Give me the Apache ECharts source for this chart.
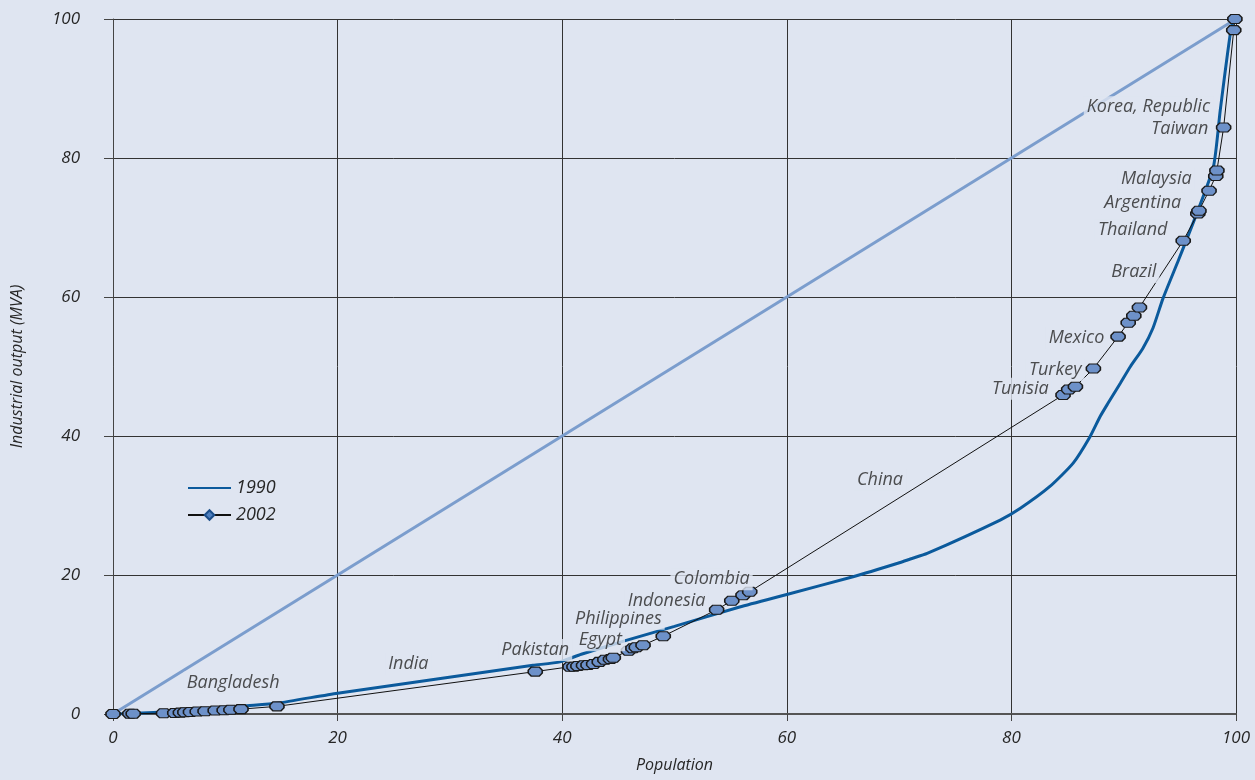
<!DOCTYPE html>
<html>
<head>
<meta charset="utf-8">
<script src="https://cdn.jsdelivr.net/npm/echarts@6/dist/echarts.min.js"></script>
<style>
html,body{margin:0;padding:0;background:#dfe5f1;}
#chart{width:1255px;height:780px;}
</style>
</head>
<body>
<div id="chart"></div>
<script>
// Tick labels
const xTicks = [0, 20, 40, 60, 80, 100];
const yTicks = [0, 20, 40, 60, 80, 100];

// Equality line
const equalityX = [0, 100];
const equalityY = [0, 100];

// 1990 curve (cumulative population %, cumulative MVA %)
const pop1990 = [0, 2, 7.7, 11.6, 14.6, 20, 37.4, 39.8, 41.7, 45.7, 50, 55.8, 60, 65.9, 70.1, 71, 72.5, 79, 80.8, 83.4, 85.5, 87, 87.9, 88.6, 89.7, 90.6, 91.7, 92.6, 93.5, 94.9, 96.5, 98.0, 98.6, 99.6, 100];
const mva1990 = [0, 0.1, 0.55, 1.15, 1.55, 3.0, 7.0, 7.5, 8.6, 10.6, 12.6, 15.4, 17.2, 19.75, 21.8, 22.3, 23.1, 27.9, 29.6, 32.7, 36.1, 39.9, 42.8, 44.7, 47.6, 50.0, 52.6, 55.5, 59.8, 65.4, 72.0, 78.8, 86.9, 99.0, 100];

// 2002 curve (each marker is a country)
const pop2002 = [0, 1.5, 1.8, 4.5, 5.5, 6.0, 6.4, 6.9, 7.5, 8.2, 9.1, 9.9, 10.5, 11.4, 14.6, 37.6, 40.7, 41.05, 41.4, 41.9, 42.3, 42.8, 43.3, 43.8, 44.3, 44.55, 45.9, 46.3, 46.6, 47.2, 49.0, 53.75, 55.1, 56.1, 56.7, 84.6, 85.1, 85.7, 87.3, 89.5, 90.4, 90.9, 91.4, 95.3, 96.6, 96.7, 97.6, 98.2, 98.3, 98.9, 99.8, 99.9];
const mva2002 = [0, 0.05, 0.05, 0.1, 0.15, 0.2, 0.25, 0.3, 0.35, 0.4, 0.5, 0.55, 0.6, 0.7, 1.1, 6.1, 6.8, 6.8, 6.9, 7.0, 7.05, 7.2, 7.5, 7.8, 7.9, 8.1, 9.1, 9.45, 9.6, 9.9, 11.2, 15.0, 16.3, 17.1, 17.6, 45.9, 46.7, 47.1, 49.7, 54.3, 56.3, 57.3, 58.5, 68.1, 72.0, 72.4, 75.3, 77.4, 78.2, 84.4, 98.4, 100];

// Country annotations (anchor in data units)
const countryNames = ['Bangladesh', 'India', 'Pakistan', 'Egypt', 'Philippines', 'Indonesia', 'Colombia', 'China', 'Tunisia', 'Turkey', 'Mexico', 'Brazil', 'Thailand', 'Argentina', 'Malaysia', 'Taiwan', 'Korea, Republic'];
const countryX = [10.7, 26.3, 37.6, 43.4, 45.0, 49.3, 53.3, 68.3, 80.8, 83.9, 85.8, 90.9, 90.8, 91.7, 92.9, 95.0, 92.2];
const countryY = [4.5, 7.2, 9.2, 10.6, 13.7, 16.3, 19.4, 33.7, 46.8, 49.5, 54.1, 63.6, 69.6, 73.5, 77.0, 84.2, 87.3];

const zip = (a, b) => a.map((v, i) => [v, b[i]]);

const FONT = '"Open Sans", "Noto Sans", sans-serif';
const BG = '#dfe5f1';
const TXT = '#262626';

const chart = echarts.init(document.getElementById('chart'), null, {renderer: 'canvas'});

const markerPath = 'path://M3,0 L11,0 L14,3 L14,6 L11,9 L3,9 L0,6 L0,3 Z';

chart.setOption({
  backgroundColor: BG,
  animation: false,
  textStyle: {fontFamily: FONT},
  grid: {left: 113, right: 19, top: 19, bottom: 66, containLabel: false, outerBoundsMode: 'none'},
  legend: {
    orient: 'vertical',
    left: 182,
    top: 474,
    itemWidth: 43,
    itemHeight: 12,
    itemGap: 9,
    data: [
      {name: '1990', itemStyle: {color: 'rgba(0,0,0,0)', borderWidth: 0, opacity: 0}},
      {name: '2002'}
    ],
    textStyle: {fontFamily: FONT, fontStyle: 'italic', fontSize: 18, color: TXT},
    selectedMode: false
  },
  xAxis: {
    type: 'value', min: 0, max: 100, interval: 20,
    name: 'Population', nameLocation: 'middle', nameGap: 43,
    nameTextStyle: {fontFamily: FONT, fontStyle: 'italic', fontSize: 16, color: TXT},
    axisLine: {show: true, lineStyle: {color: '#555', width: 2}},
    axisTick: {show: true, length: 7, lineStyle: {color: '#444'}},
    axisLabel: {fontFamily: FONT, fontStyle: 'italic', fontSize: 17, color: TXT, margin: 16,
      formatter: v => xTicks.includes(v) ? String(v) : ''},
    splitLine: {show: true, lineStyle: {color: '#333', width: 1}}
  },
  yAxis: {
    type: 'value', min: 0, max: 100, interval: 20,
    name: 'Industrial output (MVA)', nameLocation: 'middle', nameGap: 88,
    nameTextStyle: {fontFamily: FONT, fontStyle: 'italic', fontSize: 16, color: TXT},
    axisLine: {show: true, lineStyle: {color: '#444', width: 1}},
    axisTick: {show: true, length: 9, lineStyle: {color: '#444'}},
    axisLabel: {fontFamily: FONT, fontStyle: 'italic', fontSize: 17, color: TXT, margin: 33,
      formatter: v => yTicks.includes(v) ? String(v) : ''},
    splitLine: {show: true, lineStyle: {color: '#333', width: 1}}
  },
  series: [
    {
      name: 'equality', type: 'line', silent: true, z: 2,
      data: zip(equalityX, equalityY), symbol: 'none',
      lineStyle: {color: '#7b9dcd', width: 3}
    },
    {
      name: '1990', type: 'line', silent: true, z: 3,
      data: zip(pop1990, mva1990), symbol: 'none', smooth: 0.2,
      lineStyle: {color: '#0b5a9c', width: 3},
      itemStyle: {color: '#0b5a9c'}
    },
    {
      name: '2002 countries', type: 'line', silent: true, z: 4,
      data: zip(pop2002, mva2002),
      symbol: markerPath, symbolSize: [14, 9], showAllSymbol: true,
      lineStyle: {color: '#111', width: 1},
      itemStyle: {color: '#6d91c9', borderColor: '#1a1a1a', borderWidth: 1.3}
    },
    {
      name: '2002', type: 'line', silent: true,
      data: [], symbol: 'diamond', symbolSize: 9,
      lineStyle: {color: '#111', width: 1},
      itemStyle: {color: '#4f80c0', borderColor: '#1d4f8a', borderWidth: 1}
    },
    {
      name: 'labels', type: 'scatter', silent: true, z: 10,
      data: countryNames.map((n, i) => ({name: n, value: [countryX[i], countryY[i]]})),
      symbolSize: 1,
      itemStyle: {color: 'rgba(0,0,0,0)'},
      label: {
        show: true, position: 'inside', formatter: p => p.name,
        fontFamily: FONT, fontStyle: 'italic', fontSize: 18, color: TXT,
        backgroundColor: BG, padding: [2, 3]
      }
    }
  ]
});
</script>
</body>
</html>
